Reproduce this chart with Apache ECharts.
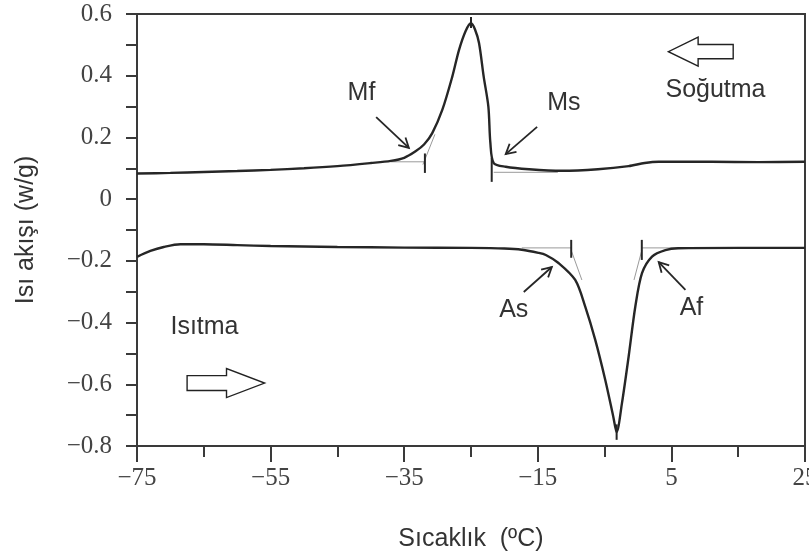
<!DOCTYPE html>
<html>
<head>
<meta charset="utf-8">
<script src="https://cdn.jsdelivr.net/npm/echarts/dist/echarts.min.js"></script>
<style>
  html, body { margin: 0; padding: 0; background: #fff; }
  #chart { width: 809px; height: 557px; }
</style>
</head>
<body>
<div id="chart"></div>
<script>
// DSC thermogram: heat flow vs temperature, cooling (upper) and heating (lower) runs

// Axis ticks
const xTickValues = [-75, -55, -35, -15, 5, 25];
const yTickValues = [-0.8, -0.6, -0.4, -0.2, 0, 0.2, 0.4, 0.6];

// Cooling run (Soğutma): temperature (°C) and heat flow (W/g)
const coolT = [-75, -70, -65, -60, -55, -50, -45, -40, -37, -35, -33.3, -32, -30.8, -29.3, -27.8, -26.8, -25.8, -25,
  -24.4, -23.8, -23.1, -22.4, -22.1, -21.6, -19.8, -16.3, -11.4, -6, -1.4, 1, 3.1, 11, 18, 25];
const coolQ = [0.083, 0.085, 0.088, 0.091, 0.095, 0.100, 0.107, 0.117, 0.124, 0.134, 0.155, 0.178, 0.214, 0.289, 0.397, 0.483, 0.545, 0.570,
  0.550, 0.506, 0.397, 0.300, 0.182, 0.117, 0.105, 0.097, 0.092, 0.097, 0.107, 0.117, 0.121, 0.121, 0.120, 0.121];

// Heating run (Isıtma)
const heatT = [-75, -73, -71, -68.5, -65, -60, -55, -45, -35, -25, -20, -17.4, -14.9, -13.8, -11.9, -9.4, -7.9, -6.4, -4.9, -3.7, -3.2,
  -2.4, -1.4, -0.4, 0.6, 2.1, 4.1, 6, 15, 25];
const heatQ = [-0.187, -0.168, -0.155, -0.146, -0.146, -0.149, -0.152, -0.155, -0.157, -0.158, -0.160, -0.164, -0.174, -0.181, -0.207, -0.262, -0.348, -0.456, -0.586, -0.705, -0.755,
  -0.661, -0.510, -0.348, -0.240, -0.186, -0.165, -0.159, -0.158, -0.158];

// Transformation temperature markers (short vertical bars): [T, q from, q to]
const markerBars = [
  [-31.9, 0.148, 0.085],   // Mf
  [-21.9, 0.133, 0.056],   // Ms
  [-25.0, 0.590, 0.555],   // cooling peak
  [-10.0, -0.132, -0.190], // As
  [0.57, -0.132, -0.197],  // Af
  [-3.2, -0.730, -0.780]   // heating peak
];

// Baselines and tangents (thin grey): [T1, q1, T2, q2]
const guideLines = [
  [-37.0, 0.121, -31.9, 0.121],
  [-32.2, 0.112, -30.4, 0.210],
  [-21.6, 0.087, -12.0, 0.087],
  [-17.4, -0.158, -10.0, -0.158],
  [-10.0, -0.166, -8.4, -0.262],
  [0.57, -0.158, 7.0, -0.158],
  [0.57, -0.166, -0.6, -0.262]
];

// Callout labels and their pointer arrows
const calloutNames = ['Mf', 'Ms', 'As', 'Af'];
const calloutText = [[-41.4, 0.344], [-11.1, 0.312], [-18.6, -0.359], [8.0, -0.353]];
const calloutArrows = [
  [-39.2, 0.266, -34.3, 0.166],
  [-15.1, 0.234, -19.8, 0.146],
  [-17.1, -0.301, -12.9, -0.220],
  [7.1, -0.294, 3.1, -0.204]
];

// Run direction labels and hollow arrows
const runNames = ['Soğutma', 'Isıtma'];
const runText = [[11.6, 0.354], [-64.9, -0.414]];
// [tail T, head base T, tip T, q, body half height, head half height]
const runArrows = [
  [14.25, 9.0, 4.55, 0.478, 0.023, 0.047],
  [-67.5, -61.6, -55.9, -0.596, 0.024, 0.047]
];

const ink = '#262626';
const axisInk = '#3a3a3a';
const sans = '"Liberation Sans", Arial, sans-serif';
const serif = '"Liberation Serif", "Times New Roman", serif';

const zip = (a, b) => a.map((v, i) => [v, b[i]]);
const fmt = v => (Math.abs(v) < 1e-9 ? '0' : (Number.isInteger(v) ? String(v) : v.toFixed(1))).replace('-', '\u2212');

const chart = echarts.init(document.getElementById('chart'), null, { renderer: 'canvas' });

chart.setOption({
  backgroundColor: '#ffffff',
  animation: false,
  grid: {
    left: 137, right: 4, top: 14, bottom: 111,
    show: true, borderColor: axisInk, borderWidth: 2, backgroundColor: 'transparent',
    containLabel: false, outerBoundsMode: 'none'
  },
  xAxis: {
    type: 'value',
    min: xTickValues[0], max: xTickValues[xTickValues.length - 1], interval: 20,
    name: 'Sıcaklık  (ºC)', nameLocation: 'middle', nameGap: 81,
    nameTextStyle: { fontFamily: sans, fontSize: 25, color: '#333' },
    axisLine: { show: true, onZero: false, lineStyle: { color: axisInk, width: 2 } },
    axisTick: { show: true, inside: false, length: 16, lineStyle: { color: axisInk, width: 2 } },
    minorTick: { show: true, splitNumber: 2, length: 11, lineStyle: { color: axisInk, width: 2 } },
    splitLine: { show: false }, minorSplitLine: { show: false },
    axisLabel: { margin: 20, fontFamily: serif, fontSize: 25, color: '#444', formatter: fmt, hideOverlap: false }
  },
  yAxis: {
    type: 'value',
    min: yTickValues[0], max: yTickValues[yTickValues.length - 1], interval: 0.2,
    name: 'Isı akışı (w/g)', nameLocation: 'middle', nameGap: 98,
    nameTextStyle: { fontFamily: sans, fontSize: 25, color: '#333' },
    axisLine: { show: true, onZero: false, lineStyle: { color: axisInk, width: 2 } },
    axisTick: { show: true, inside: false, length: 11, lineStyle: { color: axisInk, width: 2 } },
    minorTick: { show: true, splitNumber: 2, length: 11, lineStyle: { color: axisInk, width: 2 } },
    splitLine: { show: false }, minorSplitLine: { show: false },
    axisLabel: { margin: 25, fontFamily: serif, fontSize: 25, color: '#444', formatter: fmt }
  },
  series: [
    {
      name: 'Soğutma', type: 'line', data: zip(coolT, coolQ),
      showSymbol: false, smooth: 0.3,
      lineStyle: { color: ink, width: 2.4 }, z: 5
    },
    {
      name: 'Isıtma', type: 'line', data: zip(heatT, heatQ),
      showSymbol: false, smooth: 0.3,
      lineStyle: { color: ink, width: 2.4 }, z: 5
    },
    {
      name: 'guides', type: 'custom', coordinateSystem: 'cartesian2d',
      data: guideLines, encode: { x: [0, 2], y: [1, 3] }, silent: true, z: 3,
      renderItem: (params, api) => {
        const a = api.coord([api.value(0), api.value(1)]);
        const b = api.coord([api.value(2), api.value(3)]);
        return { type: 'line', shape: { x1: a[0], y1: a[1], x2: b[0], y2: b[1] },
          style: { stroke: '#9a9a9a', lineWidth: 1 } };
      }
    },
    {
      name: 'markers', type: 'custom', coordinateSystem: 'cartesian2d',
      data: markerBars, encode: { x: 0, y: [1, 2] }, silent: true, z: 6,
      renderItem: (params, api) => {
        const a = api.coord([api.value(0), api.value(1)]);
        const b = api.coord([api.value(0), api.value(2)]);
        return { type: 'line', shape: { x1: a[0], y1: a[1], x2: b[0], y2: b[1] },
          style: { stroke: ink, lineWidth: 2 } };
      }
    },
    {
      name: 'pointers', type: 'custom', coordinateSystem: 'cartesian2d',
      data: calloutArrows, encode: { x: [0, 2], y: [1, 3] }, silent: true, z: 6,
      renderItem: (params, api) => {
        const a = api.coord([api.value(0), api.value(1)]);
        const b = api.coord([api.value(2), api.value(3)]);
        const ang = Math.atan2(b[1] - a[1], b[0] - a[0]);
        const L = 11, w = 0.5;
        const h1 = [b[0] - L * Math.cos(ang - w), b[1] - L * Math.sin(ang - w)];
        const h2 = [b[0] - L * Math.cos(ang + w), b[1] - L * Math.sin(ang + w)];
        return { type: 'group', children: [
          { type: 'line', shape: { x1: a[0], y1: a[1], x2: b[0], y2: b[1] }, style: { stroke: ink, lineWidth: 1.8 } },
          { type: 'polyline', shape: { points: [h1, b, h2] }, style: { stroke: ink, lineWidth: 1.8, fill: null } }
        ] };
      }
    },
    {
      name: 'runArrows', type: 'custom', coordinateSystem: 'cartesian2d',
      data: runArrows, encode: { x: [0, 2], y: 3 }, silent: true, z: 6,
      renderItem: (params, api) => {
        const tail = api.value(0), base = api.value(1), tip = api.value(2);
        const q = api.value(3), bh = api.value(4), hh = api.value(5);
        const pts = [
          [tail, q + bh], [base, q + bh], [base, q + hh], [tip, q],
          [base, q - hh], [base, q - bh], [tail, q - bh]
        ].map(p => api.coord(p));
        return { type: 'polygon', shape: { points: pts },
          style: { stroke: '#222', lineWidth: 1.4, fill: '#ffffff' } };
      }
    },
    {
      name: 'calloutLabels', type: 'custom', coordinateSystem: 'cartesian2d',
      data: calloutText, encode: { x: 0, y: 1 }, silent: true, z: 7,
      renderItem: (params, api) => {
        const p = api.coord([api.value(0), api.value(1)]);
        return { type: 'text', x: p[0], y: p[1],
          style: { text: calloutNames[params.dataIndex], fontFamily: sans, fontSize: 25, fill: '#333',
            align: 'center', verticalAlign: 'middle' } };
      }
    },
    {
      name: 'runLabels', type: 'custom', coordinateSystem: 'cartesian2d',
      data: runText, encode: { x: 0, y: 1 }, silent: true, z: 7,
      renderItem: (params, api) => {
        const p = api.coord([api.value(0), api.value(1)]);
        return { type: 'text', x: p[0], y: p[1],
          style: { text: runNames[params.dataIndex], fontFamily: sans, fontSize: 25, fill: '#333',
            align: 'center', verticalAlign: 'middle' } };
      }
    }
  ]
});
</script>
</body>
</html>
